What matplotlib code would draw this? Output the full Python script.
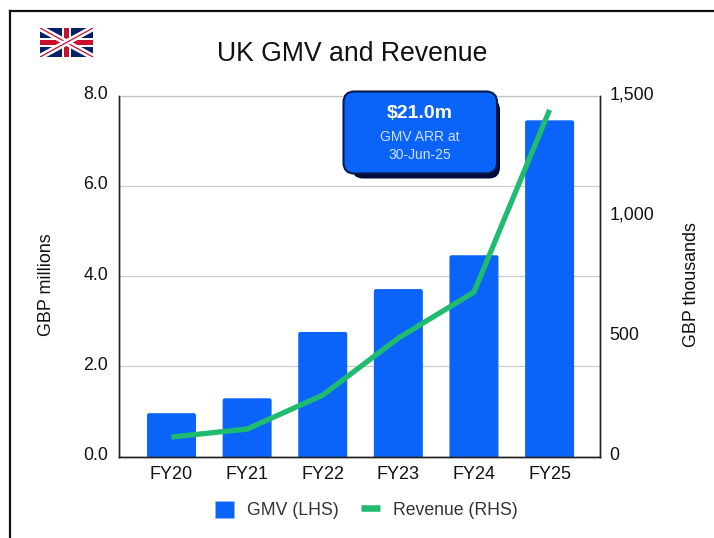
import matplotlib
matplotlib.use('Agg')
import matplotlib.pyplot as plt
from matplotlib.lines import Line2D
from matplotlib.patches import FancyBboxPatch, Patch, Rectangle
from matplotlib.transforms import ScaledTranslation

plt.rcParams['font.family'] = ['Liberation Sans', 'DejaVu Sans']

# data
years = ['FY20', 'FY21', 'FY22', 'FY23', 'FY24', 'FY25']
gmv = [0.96, 1.29, 2.76, 3.71, 4.46, 7.45]
revenue = [81, 114, 255, 492, 683, 1440]
left_ticks = [0, 2, 4, 6, 8]
right_ticks = [0, 500, 1000, 1500]
right_labels = ['0', '500', '1,000', '1,500']

BLUE = '#0b64fa'
GREEN = '#1fbb6f'
W, H = 714, 538

fig = plt.figure(figsize=(W / 100, H / 100), dpi=100)

# axes box in pixels of the reference
ax = fig.add_axes([119 / W, 1 - 456.5 / H, 480.5 / W, 361 / H])
bars = ax.bar(range(6), gmv, width=0.648, color=BLUE, zorder=2)
ax.set_xlim(-0.694, 5.66)
ax.set_ylim(0, 8)

# swap the bars for rounded ones of the same size, bottoms run under the axis
for b in list(bars):
    ax.add_patch(FancyBboxPatch((b.get_x(), -0.2), b.get_width(), b.get_height() + 0.2,
                                boxstyle='round,pad=0,rounding_size=0.03', mutation_aspect=1.675,
                                fc=BLUE, ec='none', zorder=2))
    b.remove()

ax.set_xticks(range(6))
ax.set_xticklabels(years)
ax.set_yticks(left_ticks)
ax.set_yticklabels([f'{v:.1f}' for v in left_ticks])
ax.tick_params(length=0, colors='#111111')
ax.tick_params(axis='x', pad=7, labelsize=13)
ax.tick_params(axis='y', pad=8, labelsize=12.8)
ax.grid(axis='y', color='#cccccc', linewidth=0.9, zorder=0)
ax.set_axisbelow(True)

ax2 = ax.twinx()
ax2.plot(range(6), revenue, color=GREEN, linewidth=3.8, solid_capstyle='butt', solid_joinstyle='round', zorder=3)
ax2.set_ylim(0, 1500)
ax2.set_yticks(right_ticks)
ax2.set_yticklabels(right_labels)
ax2.tick_params(length=0, labelsize=12.8, colors='#111111', pad=7)

# tick labels sit a little above the gridlines
lift = ScaledTranslation(0, 2 / 72, fig.dpi_scale_trans)
for lab in ax.get_yticklabels() + ax2.get_yticklabels():
    lab.set_transform(lab.get_transform() + lift)

ax2.spines['top'].set_visible(False)
ax.spines['top'].set_color('#c4c4c4')
ax.spines['top'].set_linewidth(0.9)
for a in (ax, ax2):
    for s in ('left', 'right', 'bottom'):
        a.spines[s].set_color('#222222')
        a.spines[s].set_linewidth(1)

fig.text(46.5 / W, 1 - 284.5 / H, 'GBP millions', fontsize=12.9, rotation=90, ha='center', va='center', color='#111111')
fig.text(691 / W, 1 - 284.5 / H, 'GBP thousands', fontsize=12.9, rotation=90, ha='center', va='center', color='#111111')
fig.text(352.5 / W, 1 - 54 / H, 'UK GMV and Revenue', fontsize=19.2, ha='center', va='center', color='#111111')

# legend
handles = [Patch(facecolor=BLUE, edgecolor='#8fb8fc', linewidth=0.5, label='GMV (LHS)'),
           Line2D([0], [0], color=GREEN, linewidth=4.7, solid_capstyle='butt', label='Revenue (RHS)')]
fig.legend(handles=handles, loc='center', bbox_to_anchor=(366.5 / W, 1 - 510 / H), ncol=2, frameon=False,
           fontsize=12.7, labelcolor='#333333', handlelength=1.1, handleheight=1.1, handletextpad=0.74, columnspacing=1.25)

# callout and flag are drawn in pixel coordinates on a full-figure overlay
over = fig.add_axes([0, 0, 1, 1], zorder=5)
over.set_xlim(0, W)
over.set_ylim(H, 0)
over.axis('off')

over.add_patch(FancyBboxPatch((352, 99), 148, 79.5, boxstyle='round,pad=0,rounding_size=11', fc='#020b3a', ec='none'))
over.add_patch(FancyBboxPatch((343.5, 91.5), 153.5, 82, boxstyle='round,pad=0,rounding_size=11', fc=BLUE, ec='#061a4d', lw=1.5))
over.text(419.5, 114, '$21.0m', color='white', fontsize=14, fontweight='bold', ha='center', va='center')
over.text(419.5, 137, 'GMV ARR at', color='#cfe0ff', fontsize=10, ha='center', va='center')
over.text(419.5, 155, '30-Jun-25', color='#cfe0ff', fontsize=10, ha='center', va='center')

# frame lines
over.add_line(Line2D([10, W], [11, 11], color='#111111', lw=1.6))
over.add_line(Line2D([10, 10], [11, H], color='#111111', lw=1.6))

# union jack
fx0, fx1, fy0, fy1 = 40, 93, 28, 57
over.add_patch(Rectangle((fx0, fy0), fx1 - fx0, fy1 - fy0, fc='#012169', ec='none'))
clip = Rectangle((fx0, fy0), fx1 - fx0, fy1 - fy0, transform=over.transData)
for xs, ys in [((fx0, fx1), (fy0, fy1)), ((fx0, fx1), (fy1, fy0))]:
    l = over.add_line(Line2D(xs, ys, color='white', lw=4.4, solid_capstyle='projecting'))
    l.set_clip_path(clip)
    l = over.add_line(Line2D(xs, ys, color='#c8102e', lw=0.9, solid_capstyle='projecting'))
    l.set_clip_path(clip)
cx, cy = (fx0 + fx1) / 2, (fy0 + fy1) / 2
over.add_patch(Rectangle((cx - 4.5, fy0), 9, fy1 - fy0, fc='white', ec='none'))
over.add_patch(Rectangle((fx0, cy - 4.5), fx1 - fx0, 9, fc='white', ec='none'))
over.add_patch(Rectangle((cx - 2.5, fy0), 5, fy1 - fy0, fc='#c8102e', ec='none'))
over.add_patch(Rectangle((fx0, cy - 2.5), fx1 - fx0, 5, fc='#c8102e', ec='none'))

fig.savefig('out.png', dpi=100)
